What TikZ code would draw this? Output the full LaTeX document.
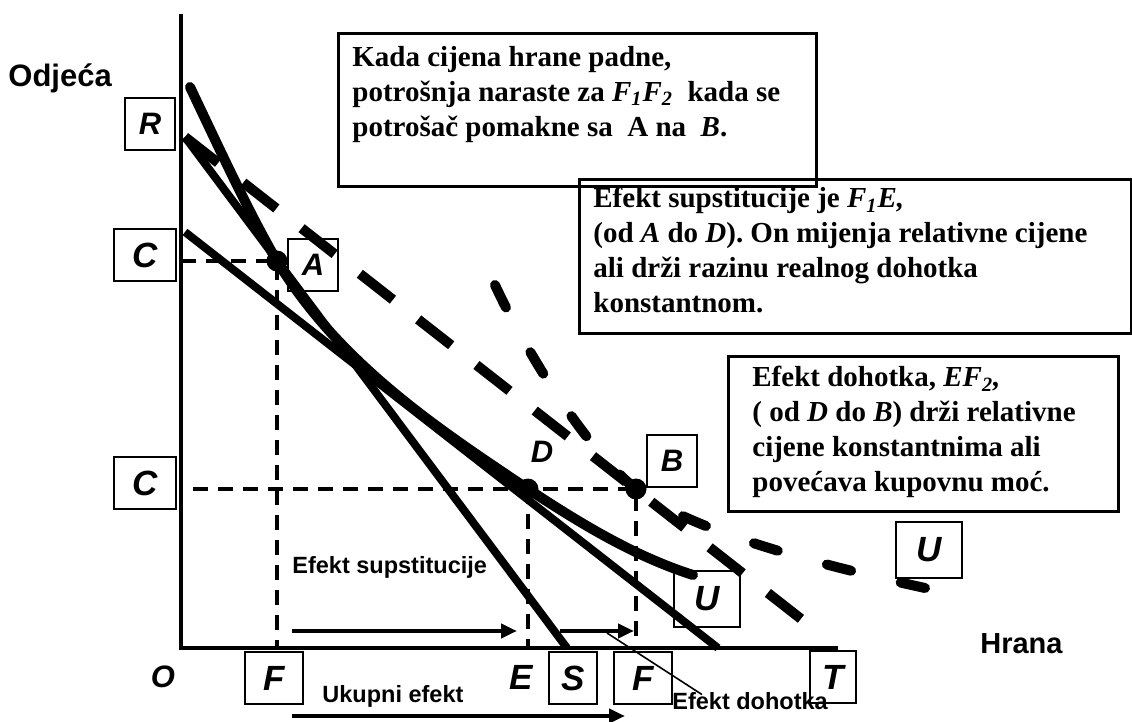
\documentclass[tikz,border=0pt]{standalone}
\usepackage{fontspec}
\setmainfont{Liberation Serif}
\setsansfont{Liberation Sans}
\usetikzlibrary{arrows.meta}
\usetikzlibrary{calc}
\tikzset{
    lbl/.style={draw, line width=0.9pt, minimum width=25pt, minimum height=26pt, inner sep=0pt,
        font=\sffamily\bfseries\itshape\fontsize{15.5}{17}\selectfont},
    biglbl/.style={lbl, font=\sffamily\bfseries\itshape\fontsize{17.5}{19}\selectfont},
    infobox/.style={draw, line width=1.4pt, anchor=north west, inner sep=0pt},
    infotext/.style={anchor=north west, inner sep=0pt, align=left,
        font=\bfseries\fontsize{14.5}{17.5}\selectfont},
    guide/.style={line width=2pt, dash pattern=on 7.5pt off 5pt},
    effect/.style={line width=2pt, -{Triangle[length=8pt,width=7pt]}},
    note/.style={inner sep=0pt, anchor=base west, font=\sffamily\bfseries\fontsize{11.75}{14}\selectfont},
    axisname/.style={inner sep=0pt, anchor=base west, font=\sffamily\bfseries\fontsize{14.5}{17}\selectfont}
}
\newcommand{\bigdot}[1]{\fill (#1) circle (5.25pt);}

\begin{document}
\begin{tikzpicture}[x=0.5pt, y=-0.5pt]
    \useasboundingbox (0,0) rectangle (1132,722);

    % Draw axes
    \coordinate (O) at (181,648);
    \coordinate (ytop) at (181,14);
    \coordinate (xend) at (838,648);
    \draw[line width=2pt] (ytop) -- (O) -- (xend);

    \node[axisname, font=\sffamily\bfseries\fontsize{15.5}{17}\selectfont] (odjeca) at (8,87) {Odjeća};
    \node[axisname] (hrana) at (980,653) {Hrana};

    % Points
    \coordinate (R) at (185,137);
    \coordinate (S) at (567,648);
    \coordinate (T) at (805,622);
    \coordinate (A) at (277,261);
    \coordinate (D) at (528,489);
    \coordinate (B) at (636,489);
    \coordinate (u1s) at (190,87);
    \coordinate (u1e) at (693,575);
    \coordinate (u2s) at (495,285);
    \coordinate (u2e) at (925,588);
    \coordinate (ps) at (185,232);
    \coordinate (pe) at (718,648);

    % Draw guides
    \draw[guide] (A -| O) -- (A) -- (A |- O);
    \draw[guide] ($(O |- B)+(12,0)$) -- (B) -- (B |- O);
    \draw[guide] (D) -- (D |- O);

    % Draw budget lines
    \draw[line width=4pt] (R) -- (S);
    \draw[line width=5pt, dash pattern=on 21pt off 16pt] (R) -- (T);
    \draw[line width=4pt] (ps) -- (pe);

    % Draw indifference curves
    \draw[line width=5pt, line cap=round] (u1s) .. controls (220,150) and (250,215) .. (A)
        .. controls (340,365) and (440,430) .. (D)
        .. controls (590,530) and (640,558) .. (u1e);
    \draw[line width=5pt, line cap=round, dash pattern=on 12.5pt off 25.5pt] (u2s)
        .. controls (530,360) and (590,453) .. (B)
        .. controls (690,531) and (820,565) .. (u2e);

    \bigdot{A}
    \bigdot{D}
    \bigdot{B}

    % Draw labels
    \node[lbl] (r) at (150,124) {R};
    \node[biglbl, minimum width=31pt] (c1) at (145,255) {C};
    \node[lbl] (a) at (313,265) {A};
    \node[biglbl, minimum width=31pt] (c2) at (145,483) {C};
    \node[lbl] (b) at (672,461) {B};
    \node[lbl, draw=none] (d) at (542,452) {D};
    \node[biglbl, minimum width=33pt, minimum height=28pt] (u1) at (707,599) {U};
    \node[biglbl, minimum width=33pt, minimum height=28pt] (u2) at (929,550) {U};
    \node[lbl, draw=none] (o) at (163,677) {O};
    \node[biglbl, minimum width=29pt] (f1) at (274,678) {F};
    \node[biglbl, draw=none] (e) at (521,677) {E};
    \node[biglbl, minimum width=24pt] (s) at (573,678) {S};
    \node[biglbl, minimum width=29pt] (f2) at (643,678) {F};
    \node[biglbl, minimum width=23pt] (t) at (833,677) {T};

    % Draw effects
    \coordinate (subs) at (292,631);
    \coordinate (sube) at (517,631);
    \coordinate (incs) at (560,631);
    \coordinate (ince) at (634,631);
    \coordinate (tots) at (292,716);
    \coordinate (tote) at (625,716);
    \draw[effect] (subs) -- (sube);
    \draw[effect] (incs) -- (ince);
    \draw[effect] (tots) -- (tote);

    \node[note] (subnote) at (292,573) {Efekt supstitucije};
    \node[note] (totnote) at (322,702) {Ukupni efekt};
    \node[note] (incnote) at (672,709) {Efekt dohotka};
    \coordinate (lead) at (607,633);
    \draw[line width=0.8pt] (lead) -- ($(incnote.north west)+(30,3)$);

    % Draw text boxes
    \node[infobox, minimum width=239pt, minimum height=76.5pt] (box1) at (337,32) {};
    \node[infobox, minimum width=276pt, minimum height=77pt] (box2) at (578,178) {};
    \node[infobox, minimum width=195pt, minimum height=77.5pt] (box3) at (727,355) {};

    \node[infotext] (txt1) at (352,46) {Kada cijena hrane padne,\\
        potrošnja naraste za \textit{F\textsubscript{1}F\textsubscript{2}}~ kada se\\
        potrošač pomakne sa ~A na ~\textit{B}.};
    \node[infotext] (txt2) at (593,187) {Efekt supstitucije je \textit{F\textsubscript{1}E,}\\
        (od \textit{A} do \textit{D}). On mijenja relativne cijene\\
        ali drži razinu realnog dohotka\\
        konstantnom.};
    \node[infotext] (txt3) at (752,366) {Efekt dohotka, \textit{EF\textsubscript{2},}\\
        ( od \textit{D} do \textit{B}) drži relativne\\
        cijene konstantnima ali\\
        povećava kupovnu moć.};
\end{tikzpicture}
\end{document}
